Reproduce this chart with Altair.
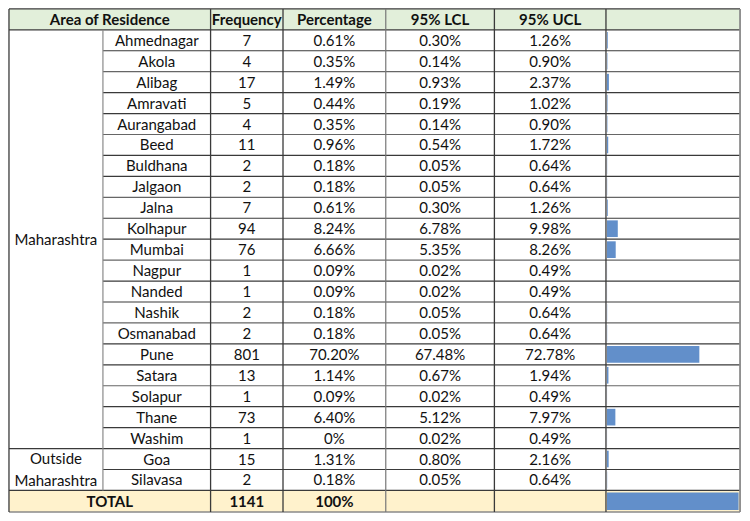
import altair as alt
import pandas as pd

# ---------------- data ----------------
areas = ["Ahmednagar", "Akola", "Alibag", "Amravati", "Aurangabad", "Beed", "Buldhana",
         "Jalgaon", "Jalna", "Kolhapur", "Mumbai", "Nagpur", "Nanded", "Nashik",
         "Osmanabad", "Pune", "Satara", "Solapur", "Thane", "Washim", "Goa", "Silavasa"]
frequency = [7, 4, 17, 5, 4, 11, 2, 2, 7, 94, 76, 1, 1, 2, 2, 801, 13, 1, 73, 1, 15, 2]
percentage = ["0.61%", "0.35%", "1.49%", "0.44%", "0.35%", "0.96%", "0.18%", "0.18%",
              "0.61%", "8.24%", "6.66%", "0.09%", "0.09%", "0.18%", "0.18%", "70.20%",
              "1.14%", "0.09%", "6.40%", "0%", "1.31%", "0.18%"]
lcl = ["0.30%", "0.14%", "0.93%", "0.19%", "0.14%", "0.54%", "0.05%", "0.05%", "0.30%",
       "6.78%", "5.35%", "0.02%", "0.02%", "0.05%", "0.05%", "67.48%", "0.67%", "0.02%",
       "5.12%", "0.02%", "0.80%", "0.05%"]
ucl = ["1.26%", "0.90%", "2.37%", "1.02%", "0.90%", "1.72%", "0.64%", "0.64%", "1.26%",
       "9.98%", "8.26%", "0.49%", "0.49%", "0.64%", "0.64%", "72.78%", "1.94%", "0.49%",
       "7.97%", "0.49%", "2.16%", "0.64%"]
groups = [["Maharashtra"], ["Outside", "Maharashtra"]]
group_sizes = [20, 2]
headers = ["Area of Residence", "Frequency", "Percentage", "95% LCL", "95% UCL"]
total_label = "TOTAL"
total_freq = 1141
total_pct = "100%"

# ---------------- layout (reference pixel units) ----------------
W, H = 734, 505
REF_W, REF_H = 750, 521
COLS = [1, 97, 207, 281, 386, 497, 611, 748]
TOP, HEAD_B, ROW_H, BOTTOM = 1, 22.5, 21.6, 520
n = len(areas)
edges = [TOP, HEAD_B] + [HEAD_B + ROW_H * (k + 1) for k in range(n)] + [BOTTOM]
DARK, GRAY = "#3a3a3a", "#8a8a8a"

xs = alt.Scale(domain=[0, REF_W], range=[0, W])
ys = alt.Scale(domain=[0, REF_H], range=[0, H])


def mid(a, b):
    return (a + b) / 2


# fills
fills = pd.DataFrame([
    {"x": COLS[0], "x2": COLS[-1], "y": edges[0], "y2": edges[1], "c": "#E2EFDA"},
    {"x": COLS[0], "x2": COLS[-1], "y": edges[n + 1], "y2": edges[n + 2], "c": "#FFF2CC"},
])

# bars
bar_rows = []
for i, f in enumerate(frequency):
    bar_rows.append({"freq": f, "y": edges[i + 1] + 2.2, "y2": edges[i + 2] - 2.2})
bar_rows.append({"freq": total_freq, "y": edges[n + 1] + 2.2, "y2": edges[n + 2] - 2.2})
bars = pd.DataFrame(bar_rows)

# lines
lines = []
def seg(x, x2, y, y2, c=DARK, w=1.3):
    lines.append({"x": x, "x2": x2, "y": y, "y2": y2, "c": c, "w": w})

seg(COLS[0], COLS[-1], edges[0], edges[0])
seg(COLS[0], COLS[-1], edges[1], edges[1])
grp_end = edges[1 + group_sizes[0]]
for k in range(2, n + 1):
    if abs(edges[k] - grp_end) < 1e-6:
        seg(COLS[0], COLS[-1], edges[k], edges[k])
    else:
        seg(COLS[1], COLS[-1], edges[k], edges[k], DARK if k % 3 else "#666666", 1.2)
seg(COLS[0], COLS[-1], edges[n + 1], edges[n + 1])
seg(COLS[0], COLS[-1], edges[n + 2], edges[n + 2], GRAY, 1.5)
seg(COLS[0], COLS[0], edges[0], edges[-1])
seg(COLS[1], COLS[1], edges[1], edges[n + 1], GRAY, 1.2)
for cx in [COLS[2], COLS[3], COLS[5], COLS[6]]:
    seg(cx, cx, edges[0], edges[-1])
seg(COLS[4], COLS[4], edges[0], edges[-1], "#777777", 1.2)
seg(COLS[-1], COLS[-1], edges[0], edges[-1], GRAY, 1.8)
lines = pd.DataFrame(lines)

# texts
reg, bold = [], []
for i in range(n):
    yc = mid(edges[i + 1], edges[i + 2])
    reg.append({"x": mid(COLS[1], COLS[2]), "y": yc, "t": areas[i]})
    reg.append({"x": mid(COLS[2], COLS[3]), "y": yc, "t": str(frequency[i])})
    reg.append({"x": mid(COLS[3], COLS[4]), "y": yc, "t": percentage[i]})
    reg.append({"x": mid(COLS[4], COLS[5]), "y": yc, "t": lcl[i]})
    reg.append({"x": mid(COLS[5], COLS[6]), "y": yc, "t": ucl[i]})
start = 1
for g, s in zip(groups, group_sizes):
    gc = mid(edges[start], edges[start + s])
    m = len(g)
    for j, part in enumerate(g):
        reg.append({"x": mid(COLS[0], COLS[1]), "y": gc + (j - (m - 1) / 2) * 23, "t": part})
    start += s
hy = mid(edges[0], edges[1])
bold.append({"x": mid(COLS[0], COLS[2]), "y": hy, "t": headers[0]})
for j, h in enumerate(headers[1:]):
    bold.append({"x": mid(COLS[2 + j], COLS[3 + j]), "y": hy, "t": h})
ty = mid(edges[n + 1], edges[n + 2])
bold.append({"x": mid(COLS[0], COLS[2]), "y": ty, "t": total_label})
bold.append({"x": mid(COLS[2], COLS[3]), "y": ty, "t": str(total_freq)})
bold.append({"x": mid(COLS[3], COLS[4]), "y": ty, "t": total_pct})
reg = pd.DataFrame(reg)
bold = pd.DataFrame(bold)

# ---------------- chart ----------------
X = alt.X("x:Q", scale=xs, axis=None)
X2 = alt.X2("x2:Q")
Y = alt.Y("y:Q", scale=ys, axis=None)
Y2 = alt.Y2("y2:Q")

fill_layer = alt.Chart(fills).mark_rect().encode(
    x=X, x2=X2, y=Y, y2=Y2, color=alt.Color("c:N", scale=None))

bar_scale = alt.Scale(domain=[0, total_freq], range=[612 * W / REF_W, 746.5 * W / REF_W])
bar_layer = alt.Chart(bars).mark_rect(color="#628FCA").encode(
    x=alt.X("freq:Q", scale=bar_scale, axis=None), x2=alt.datum(0), y=Y, y2=Y2)

rule_layer = alt.Chart(lines).mark_rule().encode(
    x=X, x2=X2, y=Y, y2=Y2,
    color=alt.Color("c:N", scale=None),
    strokeWidth=alt.StrokeWidth("w:Q", scale=None))

txt_kw = dict(align="center", baseline="middle", font="Lato", fontSize=15,
              color="#111111", dy=0.5)
reg_layer = alt.Chart(reg).mark_text(**txt_kw).encode(x=X, y=Y, text="t:N")
bold_layer = alt.Chart(bold).mark_text(fontWeight="bold", **txt_kw).encode(x=X, y=Y, text="t:N")

chart = alt.layer(fill_layer, bar_layer, rule_layer, reg_layer, bold_layer).resolve_scale(
    x="independent"
).properties(
    width=W, height=H, padding=0, autosize=alt.AutoSizeParams(type="none"),
    background="white"
).configure_view(stroke=None)

chart.save("out.html", embed_options={"renderer": "svg", "actions": False})
